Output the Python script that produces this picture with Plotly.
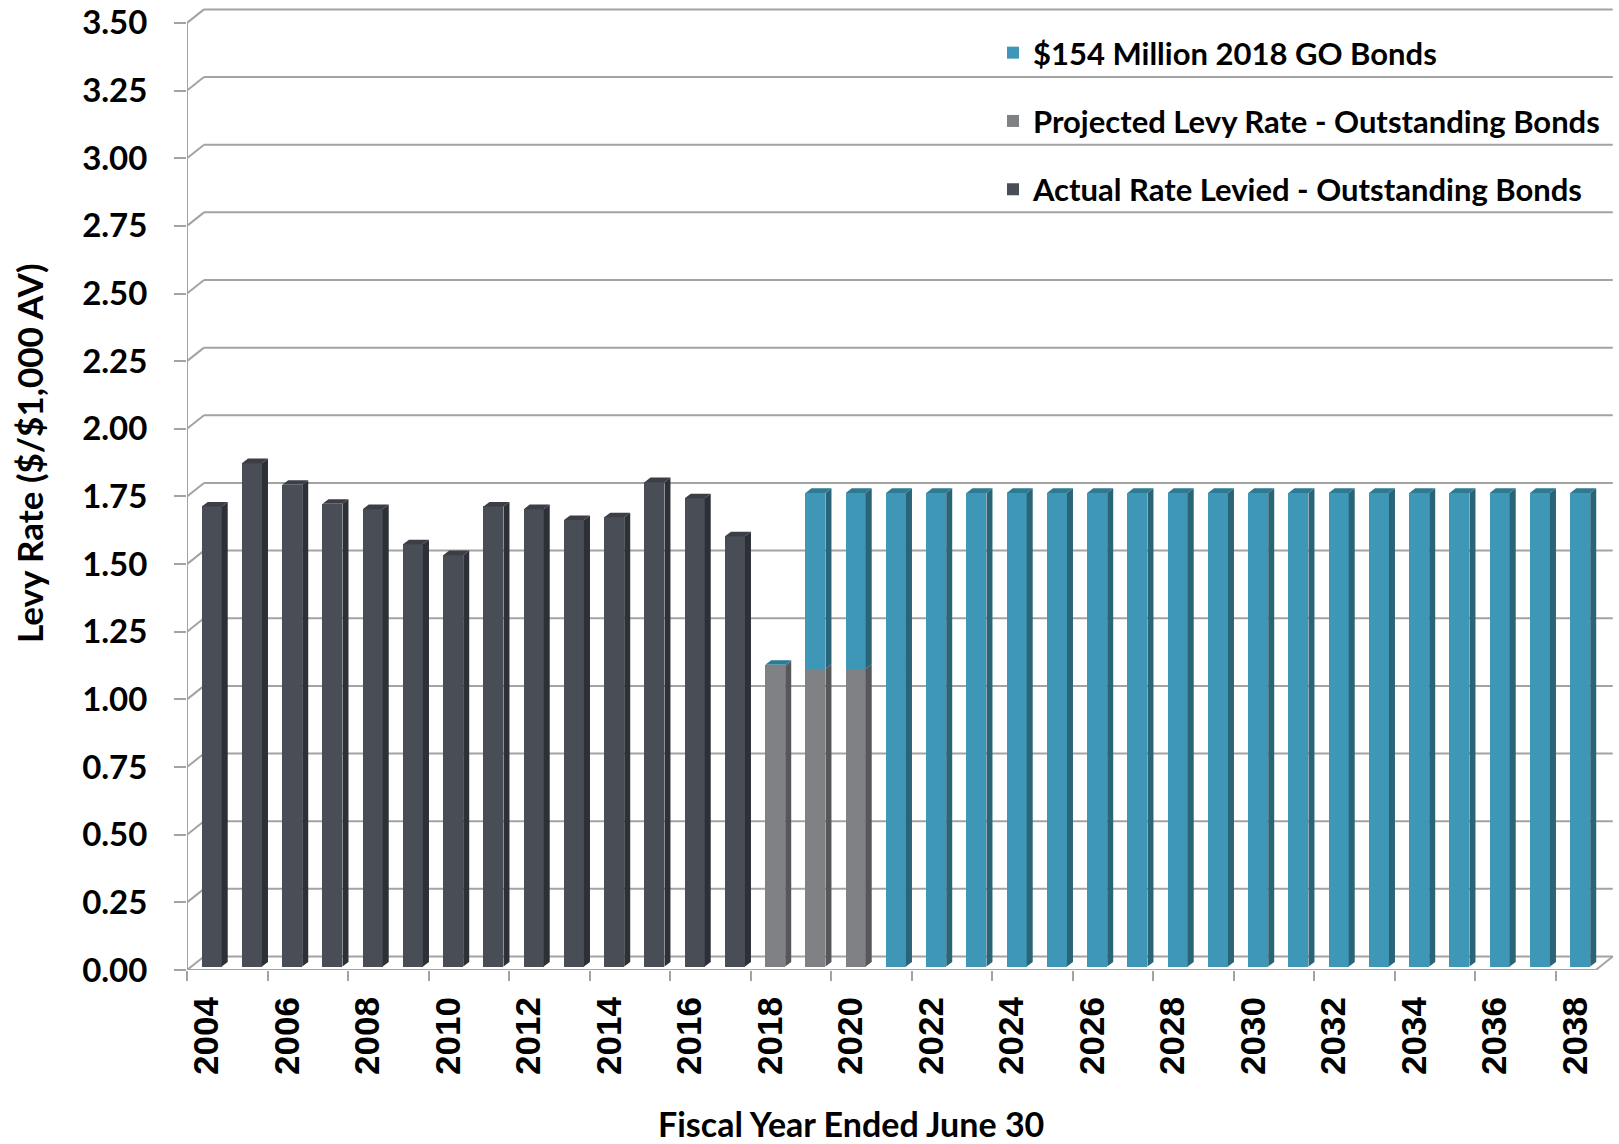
import plotly.graph_objects as go

# ---- data: levy rate, $ per $1,000 of assessed value ----
years = [2004, 2005, 2006, 2007, 2008, 2009, 2010, 2011, 2012, 2013, 2014, 2015,
         2016, 2017, 2018, 2019, 2020, 2021, 2022, 2023, 2024, 2025, 2026, 2027,
         2028, 2029, 2030, 2031, 2032, 2033, 2034, 2035, 2036, 2037, 2038]

actual_levied = [1.70, 1.86, 1.78, 1.71, 1.69, 1.56, 1.52, 1.70, 1.69, 1.65,
                 1.66, 1.79, 1.73, 1.59, 0, 0, 0, 0, 0, 0, 0, 0, 0, 0, 0, 0,
                 0, 0, 0, 0, 0, 0, 0, 0, 0]

projected_outstanding = [0, 0, 0, 0, 0, 0, 0, 0, 0, 0, 0, 0, 0, 0, 1.11, 1.10,
                         1.10, 0, 0, 0, 0, 0, 0, 0, 0, 0, 0, 0, 0, 0, 0, 0, 0,
                         0, 0]

go_bonds_2018 = [0, 0, 0, 0, 0, 0, 0, 0, 0, 0, 0, 0, 0, 0, 0.005, 0.65, 0.65,
                 1.75, 1.75, 1.75, 1.75, 1.75, 1.75, 1.75, 1.75, 1.75, 1.75,
                 1.75, 1.75, 1.75, 1.75, 1.75, 1.75, 1.75, 1.75]

y_ticks = [0.00, 0.25, 0.50, 0.75, 1.00, 1.25, 1.50, 1.75, 2.00, 2.25, 2.50,
           2.75, 3.00, 3.25, 3.50]
x_tick_years = [2004, 2006, 2008, 2010, 2012, 2014, 2016, 2018, 2020, 2022,
                2024, 2026, 2028, 2030, 2032, 2034, 2036, 2038]

names = ["$154 Million 2018 GO Bonds",
         "Projected Levy Rate - Outstanding Bonds",
         "Actual Rate Levied - Outstanding Bonds"]

# ---- page / plot geometry (pixels) ----
W, H = 1619, 1144
ML, MR, MT, MB = 187, 2, 5, 174
PX_PER_CAT = 40.25          # horizontal pixels per year
PX_PER_UNIT = 270.6         # vertical pixels per $1.00
plot_w = W - ML - MR
plot_h = H - MT - MB


def ux(px):
    return px / PX_PER_CAT


def uy(px):
    return px / PX_PER_UNIT


def paper_x(px):
    return (px - ML) / plot_w


def paper_y(px):
    return 1 - (px - MT) / plot_h


x_left = years[0] - 0.5
x_right = years[-1] + 0.5
WALL_DX, WALL_DY = ux(17), uy(13.5)     # back wall offset (oblique depth)
BAR_DX, BAR_DY = ux(4.6), uy(3.5)       # bar front plane offset
DEPTH_DX, DEPTH_DY = ux(6), uy(4.6)     # bar depth
BAR_W = ux(20)
BAR_OFF = -BAR_W / 2 + BAR_DX

GRID = "#a3a3a3"

# colours: front, side, top
C_DARK = ("#494d56", "#2d3036", "#3b3e45")
C_GRAY = ("#808184", "#565759", "#6b6c6e")
C_BLUE = ("#3e97b6", "#2a6477", "#2e7a93")

# ---- segments of each stacked column ----
segments = {"dark": [], "gray": [], "blue": []}
tops = {"dark": [], "gray": [], "blue": []}
for yr, a, p, g in zip(years, actual_levied, projected_outstanding, go_bonds_2018):
    base = BAR_DY
    stack = []
    if a > 0:
        stack.append(("dark", base, base + a))
        base += a
    if p > 0:
        stack.append(("gray", base, base + p))
        base += p
    if g > 0:
        stack.append(("blue", base, base + g))
        base += g
    for key, y0, y1 in stack:
        segments[key].append((yr, y0, y1))
    if stack:
        key, y0, y1 = stack[-1]
        tops[key].append((yr, y1))


def side_faces(segs):
    xs, ys = [], []
    for yr, y0, y1 in segs:
        xr = yr + BAR_OFF + BAR_W
        xs += [xr, xr + DEPTH_DX, xr + DEPTH_DX, xr, xr, None]
        ys += [y0, y0 + DEPTH_DY, y1 + DEPTH_DY, y1, y0, None]
    return xs, ys


def top_faces(items):
    xs, ys = [], []
    for yr, y1 in items:
        xl = yr + BAR_OFF
        xr = xl + BAR_W
        xs += [xl, xl + DEPTH_DX, xr + DEPTH_DX, xr, xl, None]
        ys += [y1, y1 + DEPTH_DY, y1 + DEPTH_DY, y1, y1, None]
    return xs, ys


fig = go.Figure()

# front faces (legend order: blue, gray, dark)
series = [
    ("blue", names[0], go_bonds_2018, C_BLUE,
     [BAR_DY + a + p for a, p in zip(actual_levied, projected_outstanding)]),
    ("gray", names[1], projected_outstanding, C_GRAY,
     [BAR_DY + a for a in actual_levied]),
    ("dark", names[2], actual_levied, C_DARK,
     [BAR_DY] * len(years)),
]
for key, name, vals, cols, bases in series:
    fig.add_trace(go.Bar(
        x=years, y=vals, base=bases, name=name,
        width=BAR_W, offset=BAR_OFF,
        marker=dict(color=cols[0], line=dict(width=0)),
        legendgroup=key, hovertemplate="%{x}: %{y:.2f}<extra>" + name + "</extra>",
    ))

# side and top faces for the 3-D look
for key, cols in (("dark", C_DARK), ("gray", C_GRAY), ("blue", C_BLUE)):
    sx, sy = side_faces(segments[key])
    fig.add_trace(go.Scatter(x=sx, y=sy, mode="lines", fill="toself",
                             fillcolor=cols[1], line=dict(width=0, color=cols[1]),
                             hoverinfo="skip", showlegend=False, legendgroup=key))
    tx, ty = top_faces(tops[key])
    fig.add_trace(go.Scatter(x=tx, y=ty, mode="lines", fill="toself",
                             fillcolor=cols[2], line=dict(width=0, color=cols[2]),
                             hoverinfo="skip", showlegend=False, legendgroup=key))

# back wall gridlines, depth connectors, floor and front axis line
shapes = []
line = dict(color=GRID, width=2)
for v in y_ticks:
    shapes.append(dict(type="line", xref="x", yref="y", layer="below",
                       x0=x_left + WALL_DX, x1=x_right + WALL_DX,
                       y0=v + WALL_DY, y1=v + WALL_DY, line=line))
    shapes.append(dict(type="line", xref="x", yref="y", layer="below",
                       x0=x_left, x1=x_left + WALL_DX,
                       y0=v, y1=v + WALL_DY, line=line))
shapes.append(dict(type="line", xref="x", yref="y", layer="below",
                   x0=x_left, x1=x_left, y0=0, y1=y_ticks[-1], line=line))
shapes.append(dict(type="line", xref="x", yref="y", layer="below",
                   x0=x_left, x1=x_right, y0=0, y1=0, line=line))
shapes.append(dict(type="line", xref="x", yref="y", layer="below",
                   x0=x_right, x1=x_right + WALL_DX, y0=0, y1=WALL_DY, line=line))
# white panel behind the legend
shapes.append(dict(type="rect", xref="paper", yref="paper", layer="below",
                   x0=paper_x(989), x1=paper_x(W + 5),
                   y0=paper_y(242), y1=paper_y(24),
                   fillcolor="white", line=dict(width=0)))

TITLE_FONT = dict(family="Lato", size=35, color="black", weight="bold")

fig.update_layout(
    width=W, height=H,
    margin=dict(l=ML, r=MR, t=MT, b=MB, pad=0),
    paper_bgcolor="white", plot_bgcolor="white",
    barmode="overlay", bargap=0,
    shapes=shapes,
    showlegend=True,
    legend=dict(
        x=paper_x(993), y=paper_y(26),
        xanchor="left", yanchor="top",
        bgcolor="rgba(255,255,255,0)", borderwidth=0,
        font=dict(family="Lato", size=31, color="black", weight="bold"),
        tracegroupgap=25, traceorder="grouped",
    ),
    xaxis=dict(
        range=[x_left, x_left + ux(plot_w)],
        tickmode="array",
        tickvals=[y - 0.5 for y in x_tick_years],
        ticktext=[str(y) for y in x_tick_years],
        ticklabelshift=int(round(PX_PER_CAT / 2)),
        tickangle=-90,
        ticks="outside", ticklen=10, tickwidth=2, tickcolor=GRID,
        tickfont=dict(family="Liberation Sans", size=35, color="black", weight="bold"),
        ticklabelstandoff=2,
        showgrid=False, zeroline=False, showline=False,
    ),
    yaxis=dict(
        range=[0, uy(plot_h)],
        tickmode="array",
        tickvals=y_ticks,
        ticktext=["%.2f" % v for v in y_ticks],
        ticks="outside", ticklen=12, tickwidth=2, tickcolor=GRID,
        tickfont=dict(family="Lato", size=33, color="black", weight="bold"),
        ticklabelstandoff=20,
        showgrid=False, zeroline=False, showline=False,
    ),
    annotations=[
        dict(text="Levy Rate ($/$1,000 AV)", textangle=-90,
             xref="paper", yref="paper",
             x=paper_x(29), y=paper_y(453),
             xanchor="center", yanchor="middle", showarrow=False,
             font=TITLE_FONT),
        dict(text="Fiscal Year Ended June 30",
             xref="paper", yref="paper",
             x=paper_x(851), y=paper_y(1123),
             xanchor="center", yanchor="middle", showarrow=False,
             font=dict(family="Lato", size=34, color="black", weight="bold")),
    ],
)

fig.write_html("out.html")
